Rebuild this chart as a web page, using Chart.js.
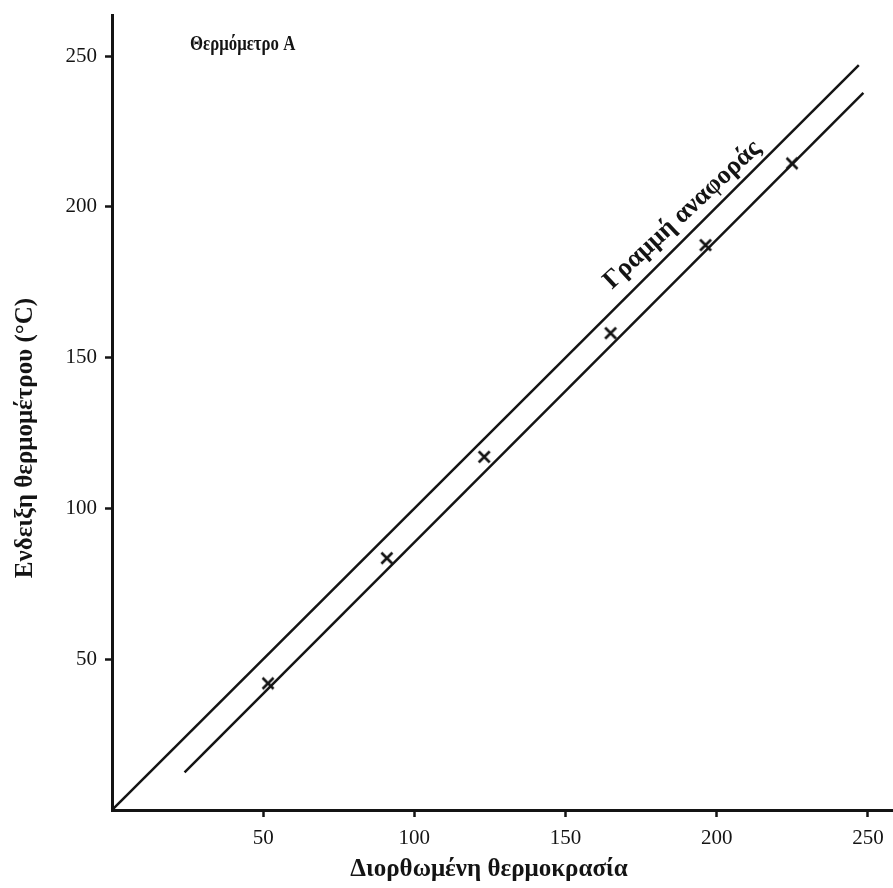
<!DOCTYPE html>
<html>
<head>
<meta charset="utf-8">
<script src="https://cdn.jsdelivr.net/npm/chart.js@4/dist/chart.umd.min.js"></script>
<style>
html,body{margin:0;padding:0;background:#fff;}
#wrap{width:893px;height:888px;position:relative;}
</style>
</head>
<body>
<div id="wrap"><canvas id="c" width="893" height="888"></canvas></div>
<script>
// Data
const tickValues = [50, 100, 150, 200, 250];
const correctedTemp = [51.6, 90.9, 123.1, 164.9, 196.3, 224.9];   // Διορθωμένη θερμοκρασία
const thermoReading = [42.0, 83.5, 117.1, 158.1, 187.3, 214.4];   // Ενδειξη θερμομέτρου
const referenceX = [0, 247];
const referenceY = [0, 247];
const fitX = [24, 248.5];
const fitY = [12.5, 237.8];

const titleText = 'Θερμόμετρο Α';
const refLabel = 'Γραμμή αναφοράς';
const xTitle = 'Διορθωμένη θερμοκρασία';
const yTitle = 'Ενδειξη θερμομέτρου (°C)';

const INK = '#141414';
const SERIF = '"Liberation Serif", "DejaVu Serif", serif';

const toPts = (xs, ys) => xs.map((x, i) => ({x: x, y: ys[i]}));

// X-shaped marker
const marker = document.createElement('canvas');
marker.width = 16; marker.height = 16;
(function () {
  const m = marker.getContext('2d');
  m.strokeStyle = INK;
  m.lineWidth = 2.6;
  m.lineCap = 'butt';
  m.beginPath();
  m.moveTo(2.5, 2.5); m.lineTo(13.5, 13.5);
  m.moveTo(13.5, 2.5); m.lineTo(2.5, 13.5);
  m.stroke();
})();

const textPlugin = {
  id: 'texts',
  afterDraw(chart) {
    const ctx = chart.ctx;
    const xs = chart.scales.x, ys = chart.scales.y;
    ctx.save();
    ctx.fillStyle = INK;
    // chart title
    ctx.font = 'bold 21px ' + SERIF;
    ctx.textAlign = 'left';
    ctx.textBaseline = 'middle';
    ctx.translate(190, 45);
    ctx.scale(0.8, 1);
    ctx.fillText(titleText, 0, 0);
    ctx.restore();
    // reference line label
    ctx.save();
    ctx.fillStyle = INK;
    const cx = xs.getPixelForValue(188.6), cy = ys.getPixelForValue(197.3);
    ctx.translate(cx, cy);
    ctx.rotate(-43 * Math.PI / 180);
    ctx.textAlign = 'center';
    ctx.textBaseline = 'middle';
    ctx.font = 'bold 26px ' + SERIF;
    ctx.fillText(refLabel, 0, 0);
    ctx.restore();
    // axis titles
    ctx.save();
    ctx.fillStyle = INK;
    ctx.font = 'bold 25px ' + SERIF;
    ctx.textAlign = 'center';
    ctx.textBaseline = 'middle';
    ctx.fillText(xTitle, 489, 870);
    ctx.translate(26, 438);
    ctx.rotate(-Math.PI / 2);
    ctx.fillText(yTitle, 0, 0);
    ctx.restore();
  }
};

const keepTicks = (scale) => {
  scale.ticks = tickValues.map(v => ({value: v}));
};

new Chart(document.getElementById('c'), {
  type: 'scatter',
  data: {
    datasets: [
      {
        label: 'ref',
        data: toPts(referenceX, referenceY),
        showLine: true,
        borderColor: INK,
        borderWidth: 2.5,
        pointRadius: 0,
        fill: false
      },
      {
        label: 'fit',
        data: toPts(fitX, fitY),
        showLine: true,
        borderColor: INK,
        borderWidth: 2.5,
        pointRadius: 0,
        fill: false
      },
      {
        label: 'points',
        data: toPts(correctedTemp, thermoReading),
        showLine: false,
        pointStyle: marker,
        pointRadius: 7,
        borderColor: INK,
        backgroundColor: INK
      }
    ]
  },
  options: {
    responsive: false,
    animation: false,
    events: [],
    layout: {autoPadding: false, padding: {top: 15, right: 0, left: 0, bottom: 0}},
    plugins: {legend: {display: false}, tooltip: {enabled: false}},
    scales: {
      x: {
        type: 'linear',
        min: 0,
        max: 258.3,
        afterBuildTicks: keepTicks,
        afterFit: s => { s.height = 78; s.paddingLeft = 0; s.paddingRight = 0; },
        border: {display: true, color: INK, width: 3},
        grid: {drawOnChartArea: false, drawTicks: true, tickLength: 7, color: INK, tickWidth: 2.5},
        ticks: {color: INK, font: {family: SERIF, size: 21}, padding: 9, maxRotation: 0}
      },
      y: {
        type: 'linear',
        min: 0,
        max: 263.6,
        afterBuildTicks: keepTicks,
        afterFit: s => { s.width = 112; s.paddingTop = 0; s.paddingBottom = 0; },
        border: {display: true, color: INK, width: 3},
        grid: {drawOnChartArea: false, drawTicks: true, tickLength: 7, color: INK, tickWidth: 2.5},
        ticks: {color: INK, font: {family: SERIF, size: 21}, padding: 8}
      }
    }
  },
  plugins: [textPlugin]
});
</script>
</body>
</html>
